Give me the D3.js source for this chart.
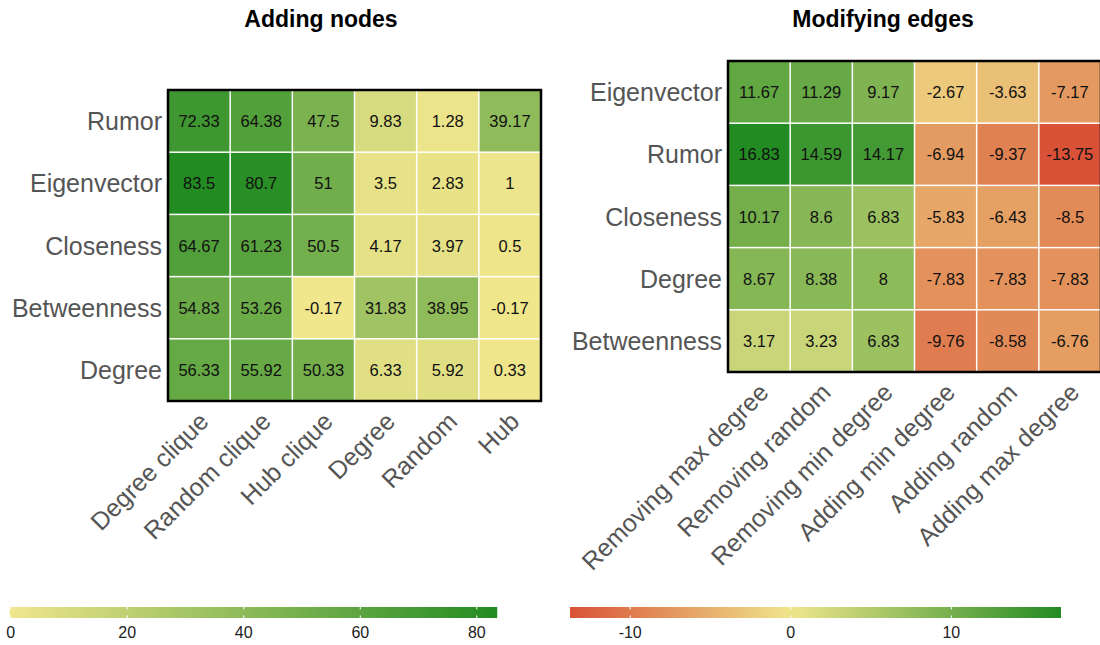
<!DOCTYPE html>
<html>
<head>
<meta charset="utf-8">
<script src="https://cdn.jsdelivr.net/npm/d3@7"></script>
<style>
  html, body { margin: 0; padding: 0; background: #fff; }
  svg { display: block; font-family: "Liberation Sans", Arial, sans-serif; }
</style>
</head>
<body>
<svg id="chart" width="1100" height="645"></svg>
<script>
// Adding nodes
const nodeStrategies = ["Degree clique", "Random clique", "Hub clique", "Degree", "Random", "Hub"];
const nodeMeasures = ["Rumor", "Eigenvector", "Closeness", "Betweenness", "Degree"];
const nodeRumor       = [72.33, 64.38, 47.5, 9.83, 1.28, 39.17];
const nodeEigenvector = [83.5, 80.7, 51, 3.5, 2.83, 1];
const nodeCloseness   = [64.67, 61.23, 50.5, 4.17, 3.97, 0.5];
const nodeBetweenness = [54.83, 53.26, -0.17, 31.83, 38.95, -0.17];
const nodeDegree      = [56.33, 55.92, 50.33, 6.33, 5.92, 0.33];
const nodeTicks = [0, 20, 40, 60, 80];

// Modifying edges
const edgeStrategies = ["Removing max degree", "Removing random", "Removing min degree", "Adding min degree", "Adding random", "Adding max degree"];
const edgeMeasures = ["Eigenvector", "Rumor", "Closeness", "Degree", "Betweenness"];
const edgeEigenvector = [11.67, 11.29, 9.17, -2.67, -3.63, -7.17];
const edgeRumor       = [16.83, 14.59, 14.17, -6.94, -9.37, -13.75];
const edgeCloseness   = [10.17, 8.6, 6.83, -5.83, -6.43, -8.5];
const edgeDegree      = [8.67, 8.38, 8, -7.83, -7.83, -7.83];
const edgeBetweenness = [3.17, 3.23, 6.83, -9.76, -8.58, -6.76];
const edgeTicks = [-10, 0, 10];

const nodeRows = [nodeRumor, nodeEigenvector, nodeCloseness, nodeBetweenness, nodeDegree];
const edgeRows = [edgeEigenvector, edgeRumor, edgeCloseness, edgeDegree, edgeBetweenness];

const svg = d3.select("#chart");
const KHAKI = "#f0e68c", GREEN = "#228b22", RED = "#d95237";

function heatmap(cfg) {
  const { cols, rows, values, color, box, title, titleX } = cfg;
  const x = d3.scaleBand().domain(cols).range([box.x0, box.x1]);
  const y = d3.scaleBand().domain(rows).range([box.y0, box.y1]);
  const cells = [];
  rows.forEach((r, i) => cols.forEach((c, j) => cells.push({ r, c, v: values[i][j] })));

  const g = svg.append("g");

  const gap = 0.75;
  g.selectAll("rect.cell").data(cells).join("rect")
    .attr("class", "cell")
    .attr("x", d => x(d.c) + gap)
    .attr("y", d => y(d.r) + gap)
    .attr("width", x.bandwidth() - 2 * gap)
    .attr("height", y.bandwidth() - 2 * gap)
    .attr("fill", d => color(d.v));

  g.selectAll("text.val").data(cells).join("text")
    .attr("class", "val")
    .attr("x", d => x(d.c) + x.bandwidth() / 2)
    .attr("y", d => y(d.r) + y.bandwidth() / 2)
    .attr("text-anchor", "middle")
    .attr("dominant-baseline", "central")
    .attr("font-size", 16.5)
    .attr("fill", "#111")
    .text(d => d.v);

  // frame
  g.append("rect")
    .attr("x", box.x0).attr("y", box.y0)
    .attr("width", box.x1 - box.x0).attr("height", box.y1 - box.y0)
    .attr("fill", "none").attr("stroke", "#000").attr("stroke-width", 2.5);

  // row labels
  g.selectAll("text.row").data(rows).join("text")
    .attr("class", "row")
    .attr("x", box.x0 - 6)
    .attr("y", d => y(d) + y.bandwidth() / 2)
    .attr("text-anchor", "end")
    .attr("dominant-baseline", "central")
    .attr("font-size", 25)
    .attr("fill", "#555")
    .text(d => d);

  // column labels, angled
  g.selectAll("text.col").data(cols).join("text")
    .attr("class", "col")
    .attr("transform", d => `translate(${x(d) + x.bandwidth() / 2 + 11},${box.y1 + 22}) rotate(-45)`)
    .attr("text-anchor", "end")
    .attr("font-size", 25)
    .attr("fill", "#555")
    .text(d => d);

  svg.append("text")
    .attr("x", titleX).attr("y", 27)
    .attr("text-anchor", "middle")
    .attr("font-size", 23)
    .attr("font-weight", "bold")
    .attr("fill", "#000")
    .text(title);
}

function colorbar(cfg) {
  const { color, domain, ticks, x0, x1, y0, h, id } = cfg;
  const sx = d3.scaleLinear().domain(domain).range([x0, x1]);
  const grad = svg.append("defs").append("linearGradient").attr("id", id)
    .attr("x1", "0%").attr("x2", "100%").attr("y1", "0%").attr("y2", "0%");
  d3.range(0, 1.0001, 0.02).forEach(t => {
    grad.append("stop").attr("offset", (t * 100) + "%")
      .attr("stop-color", color(domain[0] + t * (domain[1] - domain[0])));
  });
  svg.append("rect").attr("x", x0).attr("y", y0).attr("width", x1 - x0).attr("height", h)
    .attr("fill", `url(#${id})`);
  const tg = svg.append("g");
  ticks.forEach(t => {
    const px = sx(t);
    tg.append("line").attr("x1", px).attr("x2", px).attr("y1", y0).attr("y2", y0 + 2.5)
      .attr("stroke", "#fff").attr("stroke-width", 1);
    tg.append("line").attr("x1", px).attr("x2", px).attr("y1", y0 + h - 2.5).attr("y2", y0 + h)
      .attr("stroke", "#fff").attr("stroke-width", 1);
    tg.append("text").attr("x", px).attr("y", y0 + h + 20)
      .attr("text-anchor", "middle").attr("font-size", 16).attr("fill", "#222")
      .text(t);
  });
}

const nodeDomain = d3.extent(nodeRows.flat());
const nodeColor = d3.scaleLinear().domain(nodeDomain).range([KHAKI, GREEN]).interpolate(d3.interpolateRgb);

const edgeDomain = d3.extent(edgeRows.flat());
const edgeColor = d3.scaleLinear().domain([edgeDomain[0], 0, edgeDomain[1]])
  .range([RED, KHAKI, GREEN]).interpolate(d3.interpolateRgb);

heatmap({
  cols: nodeStrategies, rows: nodeMeasures, values: nodeRows, color: nodeColor,
  box: { x0: 168, x1: 541, y0: 90, y1: 401 }, title: "Adding nodes", titleX: 321
});
heatmap({
  cols: edgeStrategies, rows: edgeMeasures, values: edgeRows, color: edgeColor,
  box: { x0: 728, x1: 1101, y0: 61, y1: 372 }, title: "Modifying edges", titleX: 883
});

colorbar({ color: nodeColor, domain: nodeDomain, ticks: nodeTicks, x0: 9.7, x1: 497.2, y0: 607, h: 11, id: "gradNodes" });
colorbar({ color: edgeColor, domain: edgeDomain, ticks: edgeTicks, x0: 570, x1: 1061, y0: 607, h: 11, id: "gradEdges" });
</script>
</body>
</html>
